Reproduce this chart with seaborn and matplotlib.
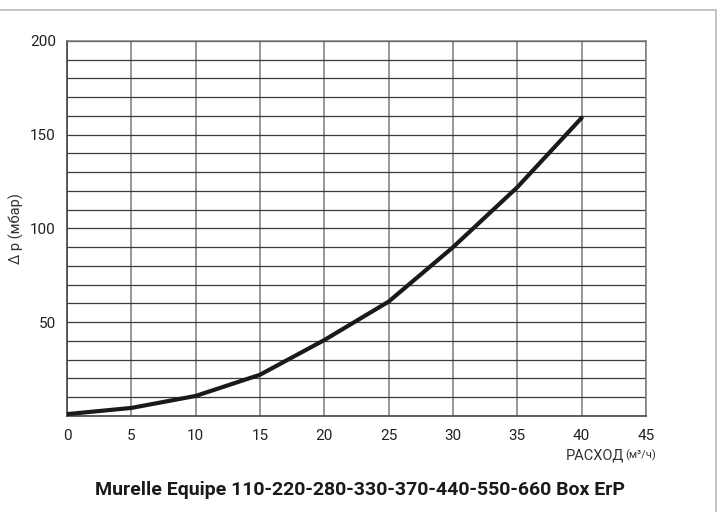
import matplotlib
matplotlib.use("Agg")
import matplotlib.pyplot as plt
import seaborn as sns
import pandas as pd

# flow vs pressure drop
flow = [0, 5, 10, 15, 20, 25, 30, 35, 40]
dp = [1, 4.3, 10.7, 22, 40.5, 61, 90, 122, 159]
x_ticks = [0, 5, 10, 15, 20, 25, 30, 35, 40, 45]
y_ticks = [0, 50, 100, 150, 200]
title = "Murelle Equipe 110-220-280-330-370-440-550-660 Box ErP"

df = pd.DataFrame({"flow": flow, "dp": dp})

sns.set_style("white")
plt.rcParams["font.family"] = ["Roboto", "DejaVu Sans"]

fig = plt.figure(figsize=(7.22, 5.12), dpi=100)
ax = fig.add_axes([0.0928, 0.1875, 0.8019, 0.7325])

# grid: vertical every 5, horizontal every 10
for xv in range(0, 46, 5):
    ax.axvline(xv, color="#7a7a7a", lw=1.1, zorder=1)
for yv in range(0, 201, 10):
    ax.axhline(yv, color="#3a3a3a", lw=0.9, zorder=1)

sns.lineplot(data=df, x="flow", y="dp", ax=ax, color="#1a1a1a", lw=3, zorder=3)

ax.set_xlim(0, 45)
ax.set_ylim(0, 200)
ax.set_xticks(x_ticks)
ax.set_yticks(y_ticks)
ax.tick_params(axis="both", labelsize=11, color="#444444", length=6, width=1,
               direction="out", labelcolor="#222222", pad=2)
ax.tick_params(axis="x", pad=3)
ax.set_yticklabels([str(v) if v else "" for v in y_ticks])
ax.set_xlabel("")
ax.set_ylabel("Δ p (мбар)", fontsize=10.5, color="#333333")
ax.yaxis.set_label_coords(-0.075, 0.5)

for s in ["left", "bottom"]:
    ax.spines[s].set_color("#444444")
    ax.spines[s].set_linewidth(1.2)
for s in ["top", "right"]:
    ax.spines[s].set_color("#7a7a7a")
    ax.spines[s].set_linewidth(1.1)

# x label with smaller unit
fig.text(0.864, 0.111, "РАСХОД", ha="right", va="center", fontsize=10.5, color="#333333")
fig.text(0.9086, 0.111, "(м³/ч)", ha="right", va="center", fontsize=8, color="#333333")

fig.text(0.499, 0.043, title, ha="center", va="center", fontsize=14,
         fontweight="bold", color="#1a1a1a")

# light frame lines at top and right
fig.add_artist(plt.Line2D([0, 0.992], [0.98, 0.98], color="#bbbbbb", lw=1.2))
fig.add_artist(plt.Line2D([0.992, 0.992], [0.98, 0.0], color="#bbbbbb", lw=1.2))

fig.savefig("out.png", dpi=100)
